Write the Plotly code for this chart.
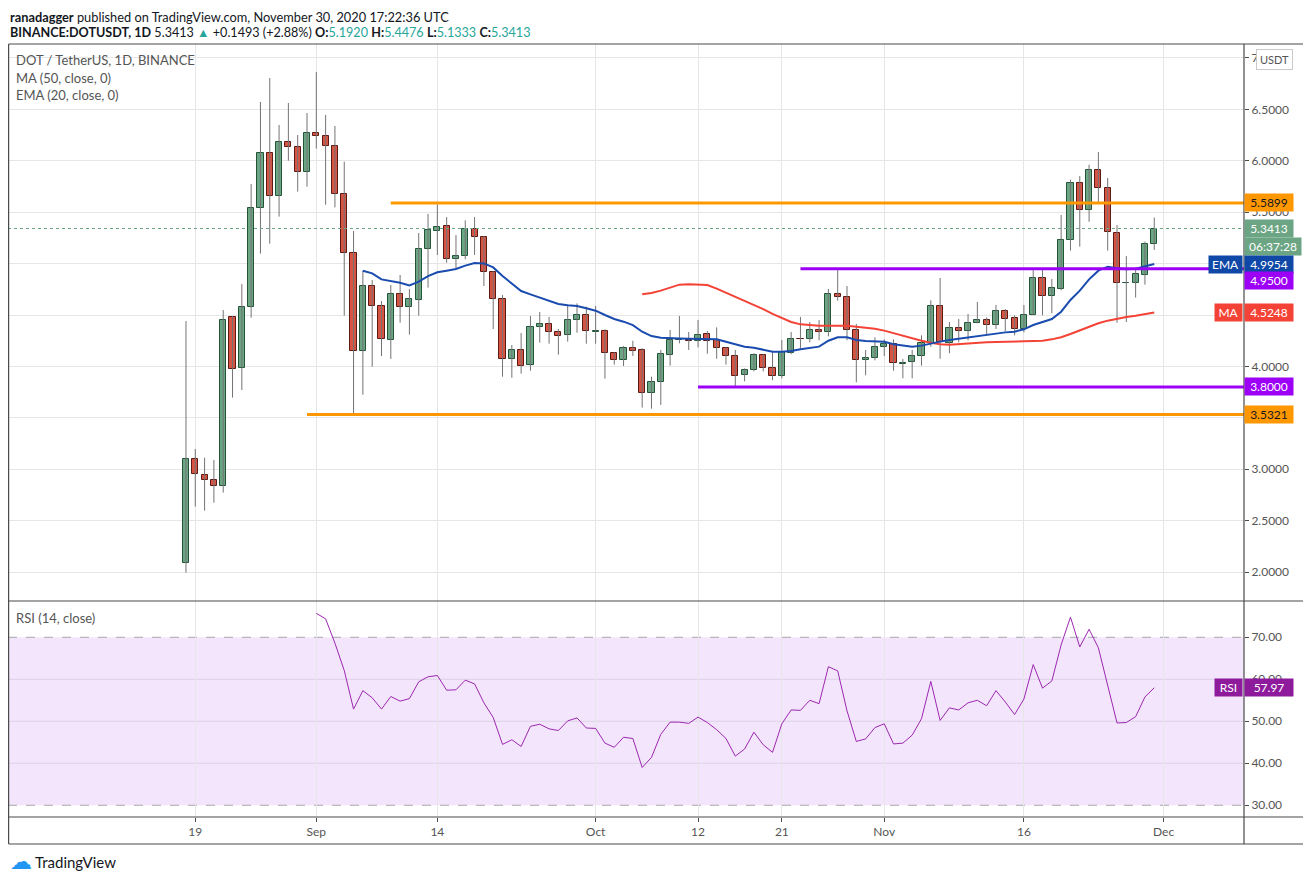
import numpy as np
import pandas as pd
import plotly.graph_objects as go

# DOT/USDT daily candles, 18 Aug 2020 .. 30 Nov 2020
open_px = [2.084, 3.099, 2.940, 2.892, 2.833, 4.477, 3.981, 4.575, 5.538, 6.073,
           5.654, 6.180, 6.131, 5.888, 6.267, 6.238, 6.141, 5.674, 5.100, 4.147,
           4.779, 4.591, 4.260, 4.701, 4.575, 4.643, 5.139, 5.314, 5.363, 5.048,
           5.071, 5.333, 5.256, 4.915, 4.652, 4.069, 4.156, 4.010, 4.383, 4.412,
           4.331, 4.302, 4.448, 4.497, 4.338, 4.341, 4.127, 4.059, 4.176, 4.160,
           3.745, 3.851, 4.108, 4.257, 4.257, 4.244, 4.312, 4.257, 4.176, 4.098,
           3.913, 3.962, 4.108, 3.981, 3.903, 4.128, 4.266, 4.262, 4.351, 4.331,
           4.701, 4.672, 4.351, 4.059, 4.079, 4.186, 4.215, 4.027, 4.040, 4.098,
           4.224, 4.584, 4.224, 4.370, 4.341, 4.419, 4.448, 4.400, 4.536, 4.467,
           4.361, 4.497, 4.860, 4.682, 4.750, 5.226, 5.781, 5.518, 5.907, 5.732,
           5.294, 4.808, 4.808, 4.886, 5.1920]
high_px = [4.442, 3.197, 3.112, 3.089, 4.549, 4.490, 4.802, 5.774, 6.572, 6.805,
           6.348, 6.562, 6.251, 6.465, 6.864, 6.446, 6.339, 5.992, 5.317, 4.931,
           4.840, 4.636, 4.792, 4.889, 4.753, 5.298, 5.483, 5.577, 5.453, 5.278,
           5.421, 5.453, 5.268, 4.925, 4.695, 4.208, 4.325, 4.490, 4.529, 4.481,
           4.364, 4.588, 4.613, 4.581, 4.588, 4.361, 4.137, 4.198, 4.250, 4.176,
           3.900, 4.160, 4.354, 4.490, 4.335, 4.451, 4.344, 4.380, 4.186, 4.160,
           3.981, 4.128, 4.118, 4.143, 4.257, 4.335, 4.481, 4.432, 4.451, 4.753,
           4.947, 4.782, 4.413, 4.160, 4.283, 4.263, 4.263, 4.072, 4.160, 4.302,
           4.643, 4.860, 4.432, 4.461, 4.510, 4.626, 4.477, 4.597, 4.558, 4.497,
           4.597, 4.937, 4.950, 4.851, 5.473, 5.817, 5.852, 5.962, 6.085, 5.833,
           5.375, 5.073, 4.960, 5.214, 5.4476]
low_px = [1.994, 2.636, 2.597, 2.674, 2.772, 3.696, 3.770, 4.474, 5.097, 5.194,
          5.457, 6.001, 5.700, 5.748, 6.118, 5.573, 5.547, 4.494, 3.527, 3.725,
          3.997, 4.101, 4.072, 4.425, 4.309, 4.494, 4.766, 5.084, 5.009, 4.944,
          5.042, 5.084, 4.782, 4.364, 3.900, 3.890, 3.929, 3.958, 4.231, 4.221,
          4.114, 4.241, 4.328, 4.221, 4.221, 3.881, 4.017, 4.004, 4.101, 3.599,
          3.589, 3.625, 4.007, 4.224, 4.160, 4.186, 4.124, 4.075, 4.017, 3.796,
          3.855, 3.952, 3.952, 3.865, 3.884, 4.118, 4.176, 4.234, 4.254, 4.292,
          4.639, 4.254, 3.845, 3.913, 4.059, 4.101, 3.958, 3.884, 3.884, 4.007,
          4.192, 4.075, 4.127, 4.234, 4.254, 4.419, 4.302, 4.364, 4.341, 4.302,
          4.331, 4.497, 4.497, 4.516, 4.740, 5.126, 5.165, 5.407, 5.599, 5.126,
          4.425, 4.432, 4.669, 4.795, 5.1333]
close_px = [3.099, 2.950, 2.892, 2.833, 4.448, 3.971, 4.575, 5.538, 6.073, 5.654,
            6.180, 6.131, 5.888, 6.267, 6.238, 6.141, 5.674, 5.100, 4.147, 4.779,
            4.591, 4.270, 4.701, 4.575, 4.652, 5.139, 5.324, 5.353, 5.048, 5.071,
            5.333, 5.256, 4.922, 4.652, 4.069, 4.156, 4.001, 4.383, 4.412, 4.331,
            4.292, 4.448, 4.497, 4.341, 4.342, 4.127, 4.059, 4.176, 4.153, 3.745,
            3.845, 4.117, 4.257, 4.262, 4.244, 4.302, 4.244, 4.176, 4.098, 3.903,
            3.962, 4.108, 3.981, 3.903, 4.137, 4.263, 4.262, 4.351, 4.331, 4.701,
            4.672, 4.351, 4.059, 4.079, 4.186, 4.215, 4.030, 4.030, 4.098, 4.224,
            4.584, 4.234, 4.370, 4.341, 4.419, 4.448, 4.400, 4.536, 4.458, 4.361,
            4.497, 4.860, 4.682, 4.760, 5.226, 5.781, 5.518, 5.907, 5.732, 5.304,
            4.808, 4.815, 4.896, 5.192, 5.3413]

# EMA(20) from 6 Sep, MA(50) from 6 Oct, RSI(14) from 1 Sep
ema20 = [4.931, 4.905, 4.846, 4.833, 4.814, 4.788, 4.824, 4.879, 4.915, 4.931,
         4.947, 4.980, 5.005, 5.002, 4.963, 4.879, 4.808, 4.733, 4.701, 4.672,
         4.639, 4.607, 4.594, 4.588, 4.565, 4.542,
         4.500, 4.461, 4.435, 4.402, 4.337, 4.295, 4.279, 4.272, 4.272, 4.269,
         4.269, 4.269, 4.263, 4.240, 4.215, 4.192, 4.182, 4.166, 4.143, 4.143,
         4.150, 4.166, 4.176, 4.192, 4.250, 4.283, 4.283, 4.257, 4.247, 4.247,
         4.240,
         4.215, 4.202, 4.192, 4.202, 4.224, 4.241, 4.257, 4.270, 4.283, 4.292,
         4.302, 4.322, 4.331, 4.338, 4.361, 4.403, 4.429, 4.461, 4.532, 4.646,
         4.737, 4.847, 4.931, 4.970, 4.954, 4.944, 4.950, 4.976, 4.9954]
ma50 = [4.701, 4.714, 4.737, 4.769, 4.795, 4.798, 4.798, 4.792, 4.756, 4.717,
        4.678, 4.636, 4.597, 4.558, 4.510, 4.467, 4.432, 4.409, 4.399, 4.396,
        4.396, 4.396, 4.396, 4.386, 4.380, 4.367,
        4.348, 4.322, 4.296, 4.273, 4.250, 4.231, 4.215, 4.211, 4.218, 4.224,
        4.228, 4.234, 4.237, 4.237, 4.241, 4.244, 4.247, 4.250, 4.263, 4.283,
        4.315, 4.351, 4.386, 4.419, 4.445, 4.464, 4.480, 4.493, 4.506, 4.5248]
rsi14 = [75.7, 74.4, 68.6, 62.1, 52.9, 57.3, 55.6, 52.9, 55.9, 54.8,
         55.4, 59.4, 60.6, 60.9, 57.4, 57.5, 59.8, 58.9, 54.4, 50.9,
         44.5, 45.6, 44.0, 48.8, 49.3, 48.2, 47.8, 50.1, 50.8, 48.4,
         48.3, 44.8, 43.8, 46.2, 45.9, 39.0, 41.4, 46.9, 49.8, 49.8,
         49.5, 51.0, 49.7, 48.0, 45.9, 41.7, 43.4, 47.4, 44.4, 42.6,
         49.4, 52.7, 52.6, 55.0, 54.2, 63.0, 62.0, 52.5, 45.2, 45.8, 48.5,
         49.4, 44.6, 44.8, 46.7, 50.6, 59.5, 50.2, 53.2, 52.7, 54.4,
         55.0, 53.7, 57.3, 54.6, 51.6, 55.3, 63.5, 57.9, 59.6, 68.2,
         74.8, 67.7, 71.9, 67.5, 58.6, 49.6, 49.7, 51.1, 55.8, 57.97]

# horizontal support / resistance levels drawn on the chart
levels = [5.5899, 4.9500, 3.8000, 3.5321]
level_start = ["2020-09-09", "2020-10-23", "2020-10-12", "2020-08-31"]
level_kind = ["orange", "purple", "purple", "orange"]

tick_dates = ["2020-08-19", "2020-09-01", "2020-09-14", "2020-10-01", "2020-10-12",
              "2020-10-21", "2020-11-01", "2020-11-16", "2020-12-01"]
tick_text = ["19", "Sep", "14", "Oct", "12", "21", "Nov", "16", "Dec"]
price_ticks = [2.0, 2.5, 3.0, 3.5, 4.0, 4.5, 5.0, 5.5, 6.0, 6.5, 7.0]
rsi_ticks = [30, 40, 50, 60, 70]

dates = pd.date_range("2020-08-18", periods=len(close_px), freq="D")
ema_dates = pd.date_range("2020-09-06", periods=len(ema20), freq="D")
ma_dates = pd.date_range("2020-10-06", periods=len(ma50), freq="D")
rsi_dates = pd.date_range("2020-09-01", periods=len(rsi14), freq="D")

UP, UP_EDGE = "#6BA583", "#225437"
DN, DN_EDGE = "#D75442", "#5B1A13"
ORANGE, PURPLE = "#FF9800", "#9C00F7"
EMA_C, MA_C, RSI_C = "#1A4BAE", "#F44336", "#9C27B0"
FONT = "Lato, 'Liberation Sans', sans-serif"
TXT = "#555555"
FRAME = "#4a4a4a"

X_RANGE = ["2020-07-29 21:15", "2020-12-09 15:20"]

o = np.array(open_px)
c = np.array(close_px)
up = c >= o

fig = go.Figure()

# wicks
wx, wy = [], []
for d, lo, hi in zip(dates, low_px, high_px):
    wx += [d, d, None]
    wy += [lo, hi, None]
fig.add_trace(go.Scatter(x=wx, y=wy, mode="lines", line=dict(color="#737375", width=1),
                         hoverinfo="skip", showlegend=False))

# bodies
fig.add_trace(go.Bar(x=dates, y=np.maximum(np.abs(c - o), 0.004), base=np.minimum(o, c),
                     width=0.66 * 86400000,
                     marker=dict(color=[UP if u else DN for u in up],
                                 line=dict(color=[UP_EDGE if u else DN_EDGE for u in up], width=1)),
                     showlegend=False))

fig.add_trace(go.Scatter(x=ma_dates, y=ma50, mode="lines", line=dict(color=MA_C, width=2),
                         showlegend=False))
fig.add_trace(go.Scatter(x=ema_dates, y=ema20, mode="lines", line=dict(color=EMA_C, width=2),
                         showlegend=False))

fig.add_trace(go.Scatter(x=rsi_dates, y=rsi14, mode="lines", line=dict(color=RSI_C, width=1),
                         xaxis="x2", yaxis="y2", showlegend=False))

# page-pixel helpers for the chrome (the page adds an 8px body margin)
def px(xp):
    return (xp - 8) / 1236.0


def py(yp):
    return (817 - yp) / 773.0


split = py(601)
shapes = []

# RSI band and guides
shapes.append(dict(type="rect", xref="x2 domain", yref="y2", x0=0, x1=1, y0=30, y1=70,
                   fillcolor="#F3E6FC", line_width=0, layer="below"))
for lv in [40, 50, 60]:
    shapes.append(dict(type="line", xref="x2 domain", yref="y2", x0=0, x1=1, y0=lv, y1=lv,
                       line=dict(color="rgba(0,0,0,0.09)", width=1), layer="below"))
for lv in [30, 70]:
    shapes.append(dict(type="line", xref="x2 domain", yref="y2", x0=0, x1=1, y0=lv, y1=lv,
                       line=dict(color="#a8a8a8", width=1, dash="dash"), layer="below"))

# last price dotted line
shapes.append(dict(type="line", xref="x domain", yref="y", x0=0, x1=1,
                   y0=close_px[-1], y1=close_px[-1],
                   line=dict(color=UP, width=1, dash="dot")))

# support / resistance
for lv, st, kind in zip(levels, level_start, level_kind):
    shapes.append(dict(type="line", xref="x", yref="y", x0=st, x1=X_RANGE[1], y0=lv, y1=lv,
                       line=dict(color=ORANGE if kind == "orange" else PURPLE, width=3)))

# frame
left_edge = 0.0005
right_edge = px(1304)
bottom_edge = py(844)
frame_lines = [
    (left_edge, 1, right_edge, 1), (left_edge, split, right_edge, split),
    (left_edge, 0, right_edge, 0), (left_edge, bottom_edge, right_edge, bottom_edge),
    (left_edge, 1, left_edge, bottom_edge), (1, 1, 1, bottom_edge),
    (right_edge, 1, right_edge, bottom_edge),
]
for x0, y0, x1, y1 in frame_lines:
    shapes.append(dict(type="line", xref="paper", yref="paper", x0=x0, y0=y0, x1=x1, y1=y1,
                       line=dict(color=FRAME, width=1.2)))

annotations = []


def txt(x, y, text, size=13, color=TXT, **kw):
    annotations.append(dict(xref="paper", yref="paper", x=x, y=y, text=text, showarrow=False,
                            xanchor="left", yanchor="middle",
                            font=dict(family=FONT, size=size, color=color), **kw))


teal = "#26A69A"
txt(px(8), py(17), "<b>ranadagger</b> published on TradingView.com, November 30, 2020 17:22:36 UTC",
    size=12.8, color="#131722")
txt(px(8), py(32),
    f"<b>BINANCE:DOTUSDT, 1D</b> {close_px[-1]:.4f} <span style='color:{teal}'>▲</span> "
    f"+0.1493 (+2.88%) <b>O:</b><span style='color:{teal}'>{open_px[-1]:.4f}</span> "
    f"<b>H:</b><span style='color:{teal}'>{high_px[-1]:.4f}</span> "
    f"<b>L:</b><span style='color:{teal}'>{low_px[-1]:.4f}</span> "
    f"<b>C:</b><span style='color:{teal}'>{close_px[-1]:.4f}</span>",
    size=12.6, color="#131722")
txt(px(14), py(60), "DOT / TetherUS, 1D, BINANCE", size=13)
txt(px(14), py(78), "MA (50, close, 0)", size=13)
txt(px(14), py(95), "EMA (20, close, 0)", size=13)
txt(px(14), py(618), "RSI (14, close)", size=13)
txt(px(33), py(862), "TradingView", size=15, color="#131722")
txt(px(8), py(860), "☁", size=22, color="#2196F3")

annotations.append(dict(xref="paper", yref="paper", x=px(1274), y=py(59), text="USDT",
                        xanchor="center", yanchor="middle",
                        showarrow=False, bgcolor="white", bordercolor="#c9c9c9", borderwidth=1,
                        borderpad=3, font=dict(family=FONT, size=11, color=TXT)))


def tag(y, text, bg, fg="white", yref="y", shift=0, width=46):
    annotations.append(dict(xref="paper", yref=yref, x=1, y=y, yshift=shift, text=text,
                            showarrow=False, xanchor="left", yanchor="middle", align="center",
                            width=width, height=15, borderpad=1, bgcolor=bg,
                            font=dict(family=FONT, size=12, color=fg)))


def side_tag(y, text, bg, width, yref="y"):
    annotations.append(dict(xref="paper", yref=yref, x=px(1243), y=y, text=text,
                            showarrow=False, xanchor="right", yanchor="middle", align="center",
                            width=width, height=15, borderpad=1, bgcolor=bg,
                            font=dict(family=FONT, size=12, color="white")))


tag(levels[0], f"{levels[0]:.4f}", ORANGE, "#131722")
tag(close_px[-1], f"{close_px[-1]:.4f}", UP)
tag(close_px[-1], "06:37:28", UP, shift=-18, width=54)
tag(ema20[-1], f"{ema20[-1]:.4f}", "#0F48A6")
side_tag(ema20[-1], "EMA", "#0F48A6", 31)
tag(levels[1], f"{levels[1]:.4f}", PURPLE, shift=-12)
tag(ma50[-1], f"{ma50[-1]:.4f}", MA_C)
side_tag(ma50[-1], "MA", MA_C, 25)
tag(levels[2], f"{levels[2]:.4f}", PURPLE)
tag(levels[3], f"{levels[3]:.4f}", ORANGE, "#131722")
tag(rsi14[-1], f"{rsi14[-1]:.2f}", "#8E1A9C", yref="y2")
side_tag(rsi14[-1], "RSI", "#8E1A9C", 25, yref="y2")

grid = "#e6e6e6"
fig.update_layout(
    width=1303, height=873,
    margin=dict(l=0, r=67, t=36, b=64),
    paper_bgcolor="white", plot_bgcolor="white",
    font=dict(family=FONT, size=12, color=TXT),
    showlegend=False, bargap=0,
    xaxis=dict(domain=[0, 1], anchor="y", type="date", range=X_RANGE,
               tickvals=tick_dates, showticklabels=False, ticks="",
               showgrid=True, gridcolor=grid, zeroline=False, rangeslider=dict(visible=False)),
    xaxis2=dict(domain=[0, 1], anchor="y2", type="date", range=X_RANGE, matches="x",
                tickvals=tick_dates, ticktext=tick_text, ticks="outside", ticklen=4,
                tickcolor=FRAME, showgrid=True, gridcolor=grid, zeroline=False,
                tickfont=dict(family=FONT, size=12, color=TXT)),
    yaxis=dict(domain=[split, 1], anchor="x", side="right", range=[1.718, 7.136],
               tickvals=price_ticks, ticktext=[f"{v:.4f}" for v in price_ticks],
               ticks="outside", ticklen=4, tickcolor=FRAME, showgrid=True, gridcolor=grid,
               zeroline=False, tickfont=dict(family=FONT, size=12, color=TXT)),
    yaxis2=dict(domain=[0, split], anchor="x2", side="right", range=[27.21, 78.64],
                tickvals=rsi_ticks, ticktext=[f"{v:.2f}" for v in rsi_ticks],
                ticks="outside", ticklen=4, tickcolor=FRAME, showgrid=False,
                zeroline=False, tickfont=dict(family=FONT, size=12, color=TXT)),
    shapes=shapes,
    annotations=annotations,
)

fig.write_html("out.html")
